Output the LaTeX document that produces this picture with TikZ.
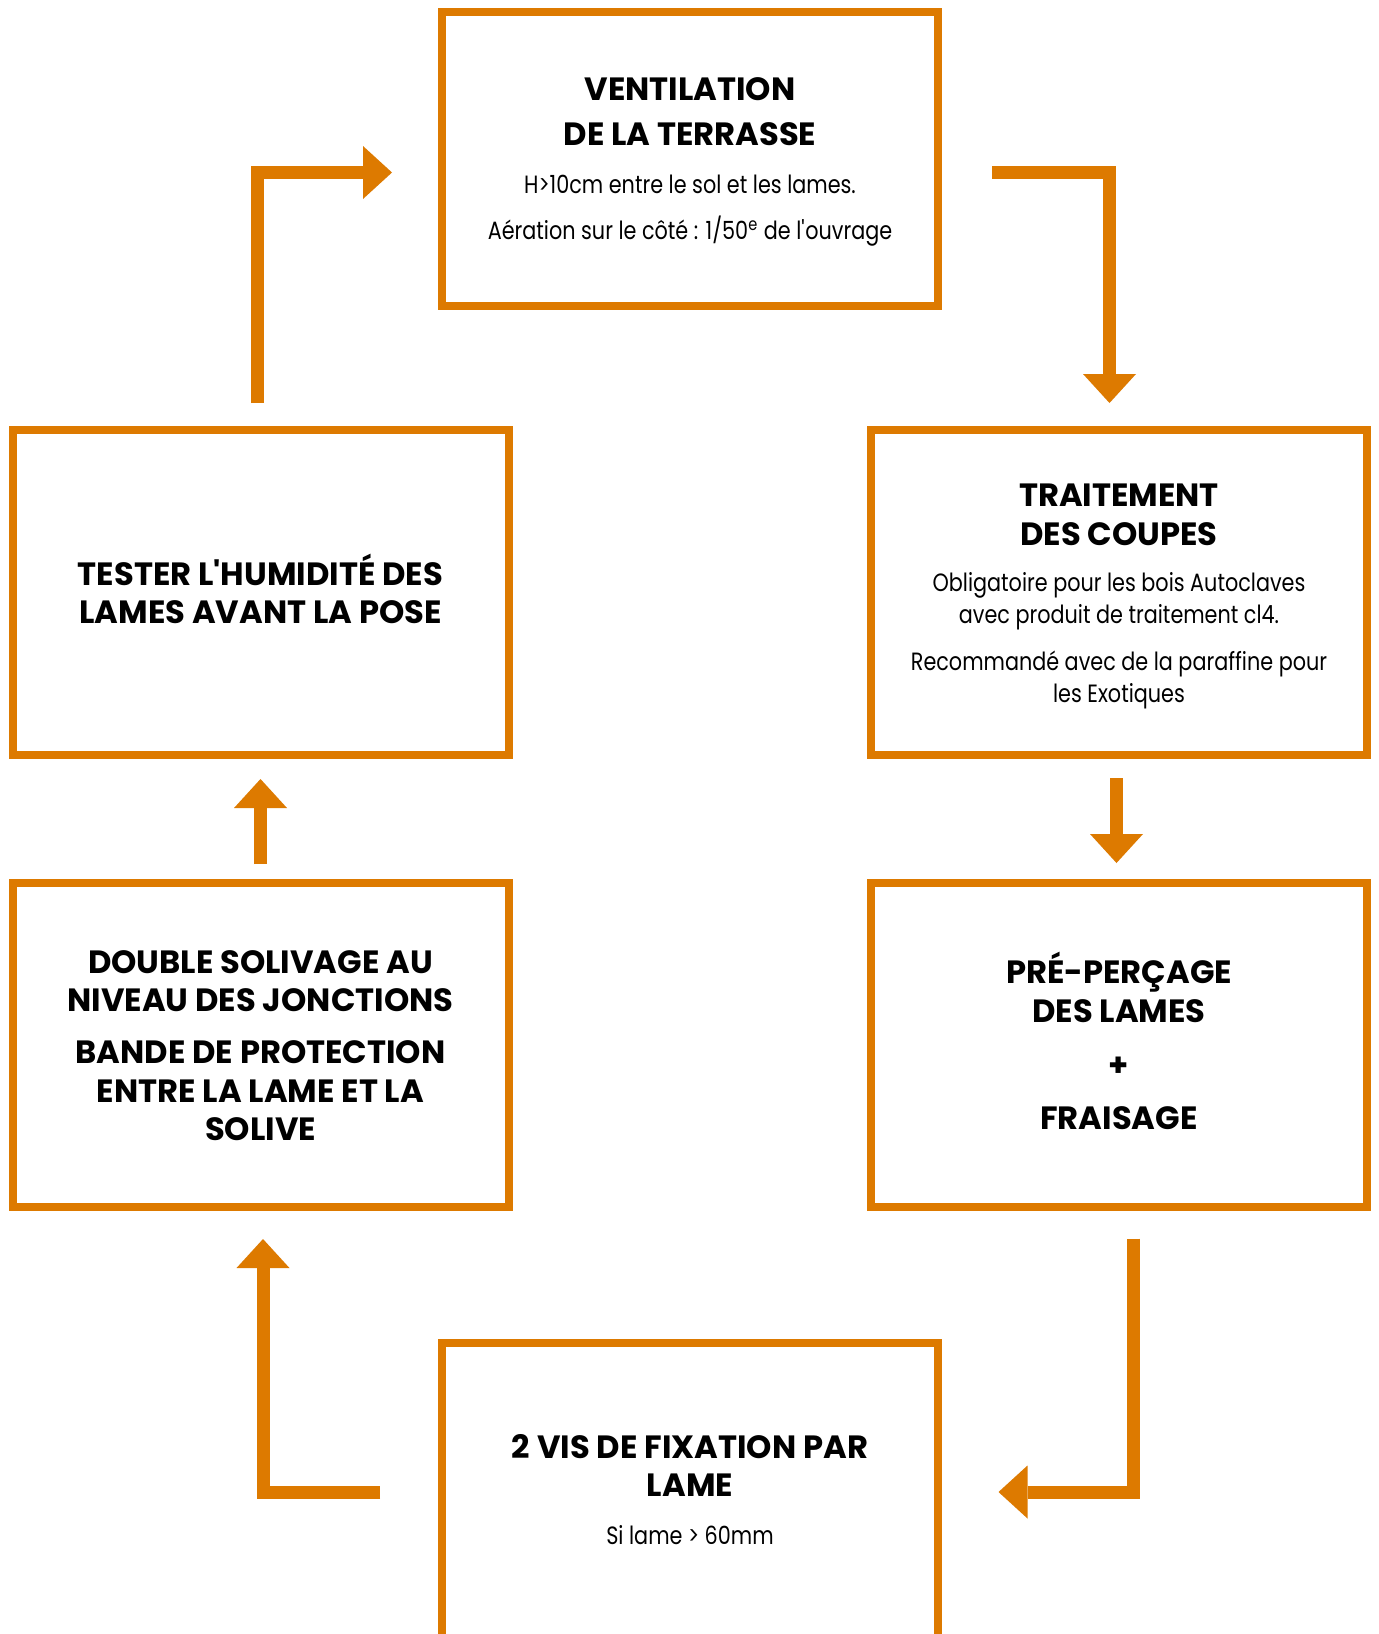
\documentclass[tikz,border=0pt]{standalone}
\usepackage{fontspec}
\usetikzlibrary{arrows.meta}
\newfontfamily\hfont{Poppins}[FakeStretch=1.0]
\newfontfamily\bfont{Poppins}[FakeStretch=0.83]
\definecolor{org}{RGB}{221,122,0}
\begin{document}
\begin{tikzpicture}[x=0.5pt,y=-0.5pt,
  box/.style={draw=org, line width=4pt, rectangle, minimum width=248pt, minimum height=162.25pt, inner sep=0pt},
  hd/.style={font=\hfont\bfseries\fontsize{16.1pt}{19pt}\selectfont, anchor=base, inner sep=0pt},
  bd/.style={font=\bfont\fontsize{12.5pt}{15pt}\selectfont, anchor=base, inner sep=0pt},
  conn/.style={draw=org, line width=6.5pt, line join=miter, line cap=butt,
    -{Triangle[length=14.5pt, width=26.5pt, line width=0pt]}}]
\useasboundingbox (0,0) rectangle (1378,1634);
\clip (0,0) rectangle (1378,1634);
\fill[white] (0,0) rectangle (1378,1634);

% boxes
\node[box, minimum height=147pt] (vent) at (690,158.5) {};
\node[box] (trait) at (1119,592.25) {};
\node[box] (test) at (260.5,592.25) {};
\node[box] (double) at (260.5,1044.75) {};
\node[box] (pre) at (1119,1044.75) {};
\node[box, minimum height=150.5pt] (fix) at (690,1493) {};

% texts
\node[hd] (v1) at (690,100) {VENTILATION};
\node[hd] (v2) at (690,145) {DE LA TERRASSE};
\node[bd] (v3) at (690,193) {H>10cm entre le sol et les lames.};
\node[bd] (v4) at (690,239) {Aération sur le côté : 1/50\textsuperscript{e} de l\textquotesingle ouvrage};

\node[hd] (t1) at (1119,506) {TRAITEMENT};
\node[hd] (t2) at (1119,545) {DES COUPES};
\node[bd] (t3) at (1119,591) {Obligatoire pour les bois Autoclaves};
\node[bd] (t4) at (1119,623) {avec produit de traitement cl4.};
\node[bd] (t5) at (1119,670) {Recommandé avec de la paraffine pour};
\node[bd] (t6) at (1119,702) {les Exotiques};

\node[hd] (h1) at (260.5,585) {TESTER L\textquotesingle HUMIDITÉ DES};
\node[hd] (h2) at (260.5,623) {LAMES AVANT LA POSE};

\node[hd] (d1) at (260.5,973) {DOUBLE SOLIVAGE AU};
\node[hd] (d2) at (260.5,1011) {NIVEAU DES JONCTIONS};
\node[hd] (d3) at (260.5,1063) {BANDE DE PROTECTION};
\node[hd] (d4) at (260.5,1102) {ENTRE LA LAME ET LA};
\node[hd] (d5) at (260.5,1140) {SOLIVE};

\node[hd] (p1) at (1119,983) {PRÉ-PERÇAGE};
\node[hd] (p2) at (1119,1022) {DES LAMES};
\node[hd] (p3) at (1119,1076) {+};
\node[hd] (p4) at (1119,1129) {FRAISAGE};

\node[hd] (f1) at (690,1458) {2 VIS DE FIXATION PAR};
\node[hd] (f2) at (690,1496) {LAME};
\node[bd] (f3) at (690,1544) {Si lame > 60mm};

% connectors
\coordinate (a1s) at (257.5,403);   \coordinate (a1e) at (392,172.5);
\coordinate (a2s) at (992,172.5);   \coordinate (a2e) at (1109.5,403);
\coordinate (a3s) at (1116.5,778);  \coordinate (a3e) at (1116.5,863);
\coordinate (a4s) at (1133.5,1238.5); \coordinate (a4e) at (998.5,1492);
\coordinate (a5s) at (380,1492);    \coordinate (a5e) at (263,1239);
\coordinate (a6s) at (260.5,864);   \coordinate (a6e) at (260.5,779);
\draw[conn] (a1s) |- (a1e);
\draw[conn] (a2s) -| (a2e);
\draw[conn] (a3s) -- (a3e);
\draw[conn] (a4s) |- (a4e);
\draw[conn] (a5s) -| (a5e);
\draw[conn] (a6s) -- (a6e);
\end{tikzpicture}
\end{document}
